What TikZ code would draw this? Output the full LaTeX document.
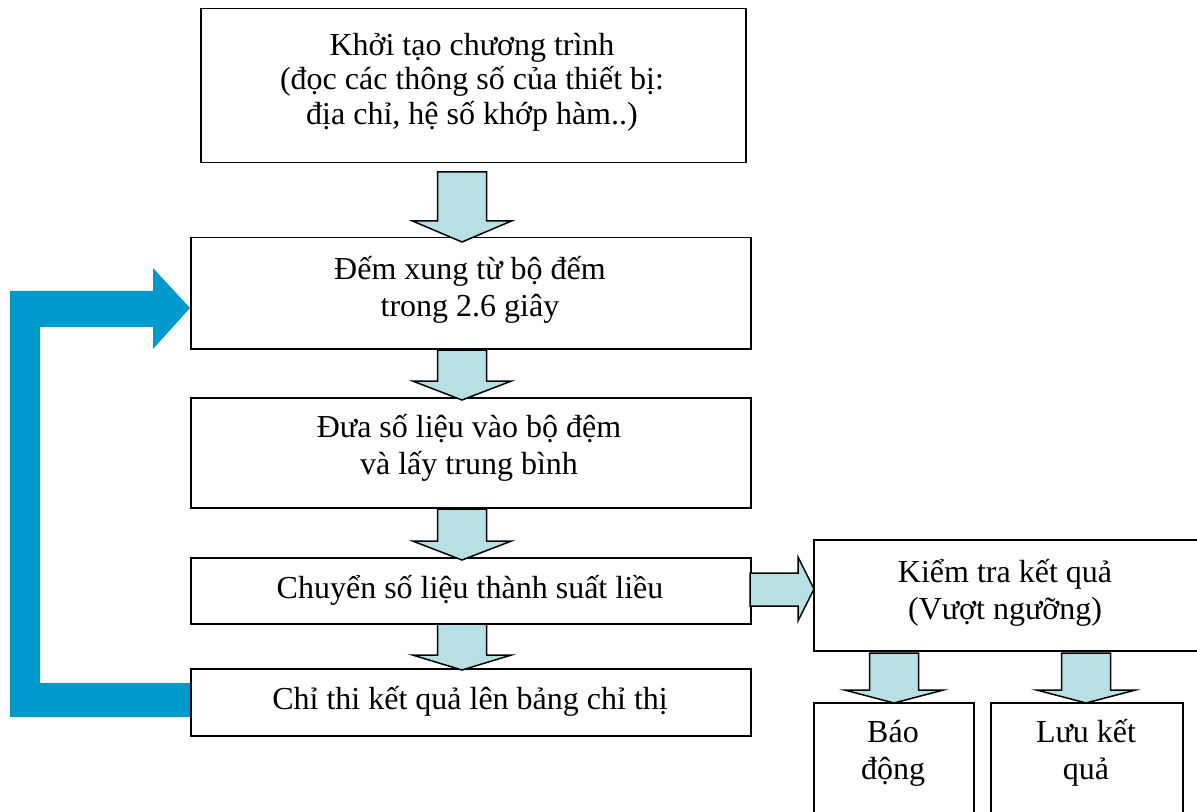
\documentclass[tikz,border=0pt]{standalone}
\usepackage{fontspec}
\setmainfont{Liberation Serif}
\definecolor{loopblue}{HTML}{0099CB}
\definecolor{palefill}{HTML}{B8DFE3}
\newcommand\blockdown[4]{% center x, top y, head y, tip y
  \filldraw[palearrow] (#1-24.5,#2) -- (#1+24.5,#2) -- (#1+24.5,#3) -- (#1+49.5,#3) -- (#1,#4) -- (#1-49.5,#3) -- (#1-24.5,#3) -- cycle;}
\begin{document}
\begin{tikzpicture}[x=0.5pt,y=-0.5pt,
  box/.style={draw, line width=0.75pt, anchor=north west, inner sep=0pt},
  txt/.style={align=center, font=\fontsize{16pt}{18.5pt}\selectfont, inner sep=0pt},
  palearrow/.style={fill=palefill, draw=black, line width=0.75pt, line join=miter}]
\useasboundingbox (0,0) rectangle (1197,812);
% boxes
\node[box, minimum width=272.5pt, minimum height=77pt] (b1) at (200,8) {};
\node[box, minimum width=280pt, minimum height=55.5pt] (b2) at (190,237) {};
\node[box, minimum width=280pt, minimum height=55pt] (b3) at (190,397) {};
\node[box, minimum width=280pt, minimum height=33pt] (b4) at (190,557) {};
\node[box, minimum width=280pt, minimum height=33.5pt] (b5) at (190,668) {};
\node[box, minimum width=200pt, minimum height=55.5pt] (b6) at (813,539) {};
\node[box, minimum width=80pt, minimum height=60pt] (b7) at (813,702) {};
\node[box, minimum width=96pt, minimum height=60pt] (b8) at (990,702) {};
% texts
\node[txt, font=\fontsize{16pt}{17.2pt}\selectfont] (t1) at (472,82) {Khởi tạo chương trình\\(đọc các thông số của thiết bị:\\địa chỉ, hệ số khớp hàm..)};
\node[txt] (t2) at (470,290) {Đếm xung từ bộ đếm\\ trong 2.6 giây};
\node[txt] (t3) at (469,448) {Đưa số liệu vào bộ đệm\\và lấy trung bình};
\node[txt] (t4) at (470,590) {Chuyển số liệu thành suất liều};
\node[txt] (t5) at (470,701) {Chỉ thi kết quả lên bảng chỉ thị};
\node[txt] (t6) at (1005,593) {Kiểm tra kết quả\\(Vượt ngưỡng)};
\node[txt] (t7) at (893,753) {Báo\\động};
\node[txt] (t8) at (1086,753) {Lưu kết\\quả};
% pale block arrows
\blockdown{462}{172}{221}{242}
\blockdown{462}{350}{381}{400}
\blockdown{462}{509}{541}{560}
\blockdown{462}{624}{655}{670}
\blockdown{894}{653}{690}{703}
\blockdown{1086}{653}{690}{703}
\filldraw[palearrow] (750,573) -- (798,573) -- (798,557) -- (814,589) -- (798,621) -- (798,606) -- (750,606) -- cycle;
% blue loop arrow
\fill[loopblue] (190,717) -- (10,717) -- (10,291) -- (153,291) -- (153,268) -- (190,308) -- (153,349) -- (153,327) -- (40,327) -- (40,683) -- (190,683) -- cycle;
\end{tikzpicture}
\end{document}
